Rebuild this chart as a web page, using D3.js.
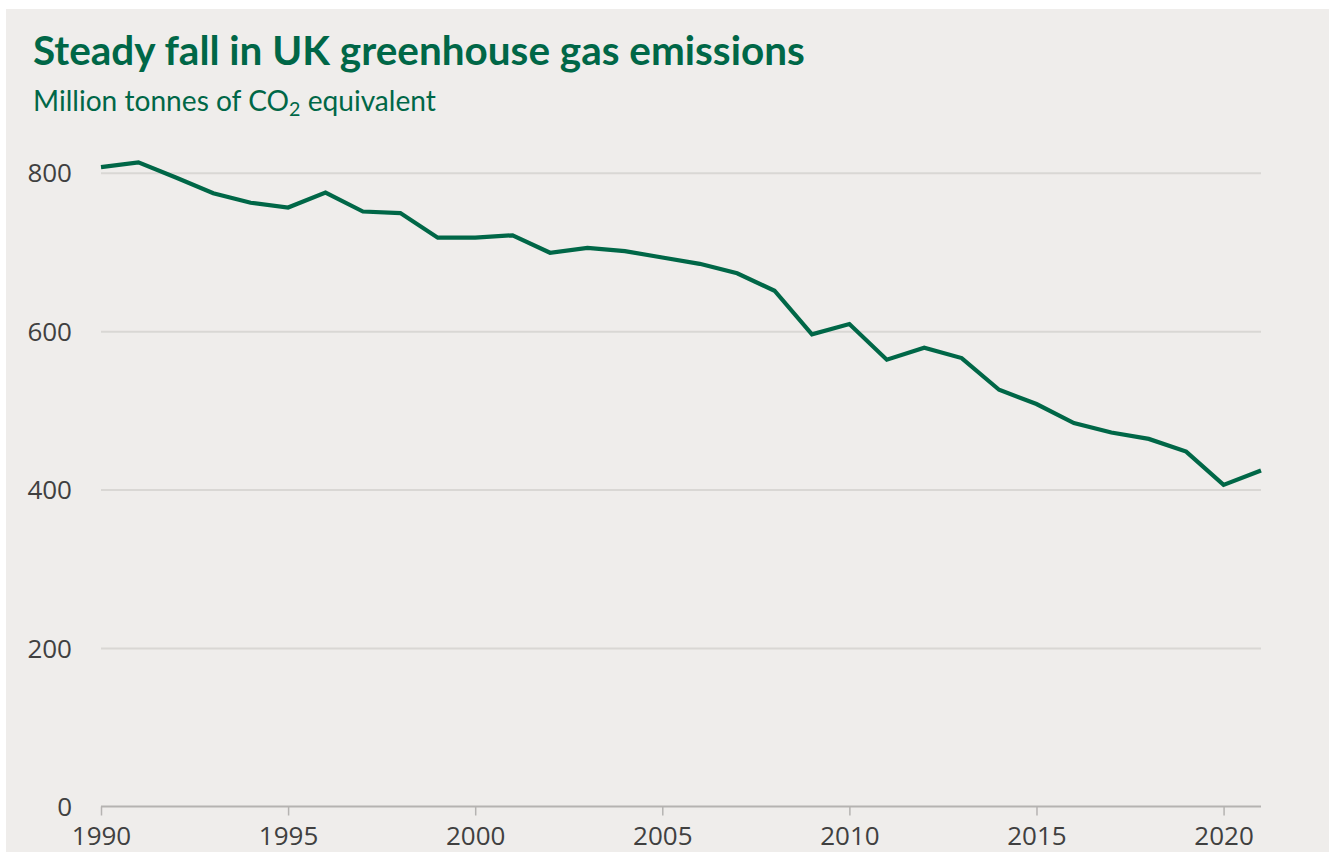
<!DOCTYPE html>
<html>
<head>
<meta charset="utf-8">
<script src="https://cdn.jsdelivr.net/npm/d3@7"></script>
<style>
  html, body { margin: 0; padding: 0; background: #ffffff; }
  svg { display: block; }
</style>
</head>
<body>
<svg id="chart" width="1329" height="852"></svg>
<script>
const years = [1990,1991,1992,1993,1994,1995,1996,1997,1998,1999,2000,2001,2002,2003,2004,2005,2006,2007,2008,2009,2010,2011,2012,2013,2014,2015,2016,2017,2018,2019,2020,2021];
const emissions = [807,813,794,774,762,756,775,751,749,718,718,721,699,705,701,693,685,673,651,596,609,564,579,566,526,508,484,472,464,448,406,424];
const yTicks = [0,200,400,600,800];
const xTicks = [1990,1995,2000,2005,2010,2015,2020];
const titleText = "Steady fall in UK greenhouse gas emissions";
const subtitleMain = "Million tonnes of CO";
const subtitleSub = "2";
const subtitleEnd = " equivalent";

const W = 1329, H = 852;
const svg = d3.select("#chart");
const green = "#006747";

svg.append("rect").attr("x", 6).attr("y", 9).attr("width", W - 6).attr("height", H - 9).attr("fill", "#efedeb");

const x = d3.scaleLinear().domain([1990, 2021]).range([101, 1261]);
const y = d3.scaleLinear().domain([0, 800]).range([806.5, 172.7]);

// title
const title = svg.append("text").attr("x", 33).attr("y", 65)
  .attr("font-family", "Lato, 'Noto Sans', sans-serif").attr("font-weight", 700)
  .attr("font-size", 35).attr("fill", green).text(titleText);
let tl = title.node().getComputedTextLength();
title.attr("font-size", 35 * 772 / tl);

const sub = svg.append("text").attr("x", 33).attr("y", 111)
  .attr("font-family", "Lato, 'Noto Sans', sans-serif").attr("font-weight", 400)
  .attr("font-size", 25).attr("fill", green);
sub.append("tspan").text(subtitleMain);
sub.append("tspan").attr("font-size", "0.7em").attr("dy", 5).text(subtitleSub);
sub.append("tspan").attr("dy", -5).text(subtitleEnd);
let sl = sub.node().getComputedTextLength();
sub.attr("font-size", 25 * 403 / sl);

// gridlines
const grid = svg.append("g")
  .call(d3.axisLeft(y).tickValues(yTicks.filter(d => d > 0)).tickSize(-(1261 - 101)).tickFormat(""))
  .attr("transform", "translate(101,0)");
grid.select(".domain").remove();
grid.selectAll(".tick line").attr("stroke", "#d9d7d4").attr("stroke-width", 2);

// y labels
const yAxis = svg.append("g").attr("transform", "translate(101,0)")
  .call(d3.axisLeft(y).tickValues(yTicks).tickSize(0).tickPadding(29));
yAxis.select(".domain").remove();
yAxis.selectAll("text").attr("font-family", "'Open Sans', sans-serif").attr("font-size", 26)
  .attr("fill", "#404040").attr("dy", "0.35em");

// x axis
const xAxis = svg.append("g").attr("transform", "translate(0,806.5)")
  .call(d3.axisBottom(x).tickValues(xTicks).tickSize(9).tickPadding(11).tickFormat(d3.format("d")));
xAxis.select(".domain").attr("stroke", "#b5b3b1").attr("stroke-width", 2).attr("d", `M101,0H1261`);
xAxis.selectAll(".tick line").attr("stroke", "#b5b3b1").attr("stroke-width", 1.5);
xAxis.selectAll("text").attr("font-family", "'Open Sans', sans-serif").attr("font-size", 26)
  .attr("fill", "#404040");

// line
const line = d3.line().x((d, i) => x(years[i])).y(d => y(d));
svg.append("path").datum(emissions).attr("d", line)
  .attr("fill", "none").attr("stroke", green).attr("stroke-width", 4.2)
  .attr("stroke-linejoin", "miter").attr("stroke-linecap", "butt");
</script>
</body>
</html>
